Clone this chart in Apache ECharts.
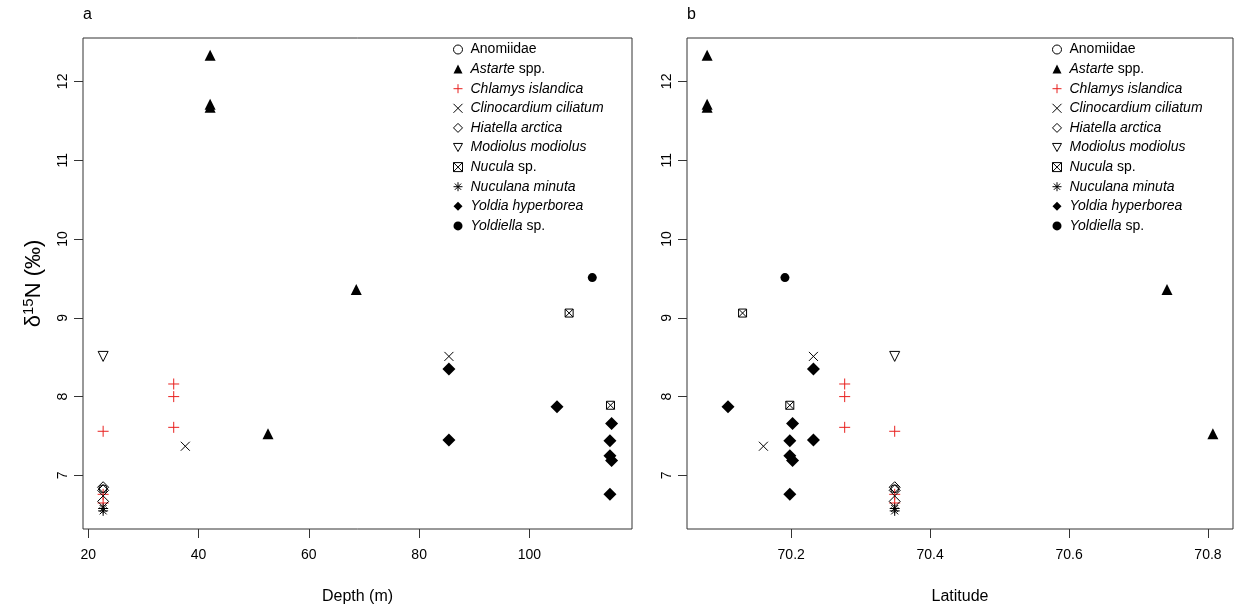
<!DOCTYPE html>
<html>
<head>
<meta charset="utf-8">
<script src="https://cdn.jsdelivr.net/npm/echarts@6/dist/echarts.min.js"></script>
<style>
html,body{margin:0;padding:0;background:#fff;}
#chart{width:1236px;height:610px;}
</style>
</head>
<body>
<div id="chart"></div>
<script>
// ---- data ----
const speciesNames = ['Anomiidae','Astarte spp.','Chlamys islandica','Clinocardium ciliatum','Hiatella arctica','Modiolus modiolus','Nucula sp.','Nuculana minuta','Yoldia hyperborea','Yoldiella sp.'];

const anomiidaeDepth = [22.7];
const anomiidaeLat   = [70.349];
const anomiidaeN     = [6.83];

const astarteDepth = [42.1, 42.1, 42.1, 68.6, 52.6];
const astarteLat   = [70.079, 70.079, 70.079, 70.741, 70.807];
const astarteN     = [12.33, 11.71, 11.67, 9.36, 7.53];

const chlamysDepth = [22.7, 35.5, 35.5, 35.5, 22.7, 22.7];
const chlamysLat   = [70.349, 70.277, 70.277, 70.277, 70.349, 70.349];
const chlamysN     = [7.56, 8.16, 8.00, 7.61, 6.76, 6.65];

const clinoDepth = [37.6, 85.4];
const clinoLat   = [70.160, 70.232];
const clinoN     = [7.37, 8.51];

const hiatellaDepth = [22.7, 22.7, 22.7];
const hiatellaLat   = [70.349, 70.349, 70.349];
const hiatellaN     = [6.85, 6.81, 6.67];

const modiolusDepth = [22.7];
const modiolusLat   = [70.349];
const modiolusN     = [8.51];

const nuculaDepth = [107.2, 114.7];
const nuculaLat   = [70.130, 70.198];
const nuculaN     = [9.06, 7.89];

const nuculanaDepth = [22.7, 22.7];
const nuculanaLat   = [70.349, 70.349];
const nuculanaN     = [6.58, 6.55];

const yoldiaDepth = [85.4, 85.4, 105.0, 114.9, 114.6, 114.6, 114.9, 114.6];
const yoldiaLat   = [70.232, 70.232, 70.109, 70.202, 70.198, 70.198, 70.202, 70.198];
const yoldiaN     = [8.35, 7.45, 7.87, 7.66, 7.44, 7.25, 7.19, 6.76];

const yoldiellaDepth = [111.4];
const yoldiellaLat   = [70.191];
const yoldiellaN     = [9.51];

const depthTicks = [20, 40, 60, 80, 100];
const latTicks   = [70.2, 70.4, 70.6, 70.8];
const nTicks     = [7, 8, 9, 10, 11, 12];

// ---- styling ----
const FONT = 'Liberation Sans, Arial, sans-serif';
const RED = '#e8211f';
const BLACK = '#000';
const CLEAR = 'rgba(0,0,0,0)';

const styles = {
  'Anomiidae':            {symbol:'circle', size:8, item:{color:CLEAR, borderColor:BLACK, borderWidth:1}},
  'Astarte spp.':         {symbol:'triangle', size:11, item:{color:BLACK}},
  'Chlamys islandica':    {symbol:'path://M5,0L5,10M0,5L10,5', size:11, item:{color:CLEAR, borderColor:RED, borderWidth:1}},
  'Clinocardium ciliatum':{symbol:'path://M0,0L10,10M10,0L0,10', size:9, item:{color:CLEAR, borderColor:BLACK, borderWidth:1}},
  'Hiatella arctica':     {symbol:'diamond', size:11, item:{color:CLEAR, borderColor:BLACK, borderWidth:1}},
  'Modiolus modiolus':    {symbol:'path://M0,0L10,0L5,9Z', size:10, item:{color:CLEAR, borderColor:BLACK, borderWidth:1}},
  'Nucula sp.':           {symbol:'path://M0,0L10,0L10,10L0,10ZM0,0L10,10M10,0L0,10', size:8, item:{color:CLEAR, borderColor:BLACK, borderWidth:1}},
  'Nuculana minuta':      {symbol:'path://M5,0L5,10M0,5L10,5M1.5,1.5L8.5,8.5M8.5,1.5L1.5,8.5', size:10, item:{color:CLEAR, borderColor:BLACK, borderWidth:1}},
  'Yoldia hyperborea':    {symbol:'diamond', size:13, item:{color:BLACK}},
  'Yoldiella sp.':        {symbol:'circle', size:9, item:{color:BLACK}}
};

const legendLabels = {
  'Anomiidae': '{n|Anomiidae}',
  'Astarte spp.': '{i|Astarte}{n| spp.}',
  'Chlamys islandica': '{i|Chlamys islandica}',
  'Clinocardium ciliatum': '{i|Clinocardium ciliatum}',
  'Hiatella arctica': '{i|Hiatella arctica}',
  'Modiolus modiolus': '{i|Modiolus modiolus}',
  'Nucula sp.': '{i|Nucula}{n| sp.}',
  'Nuculana minuta': '{i|Nuculana minuta}',
  'Yoldia hyperborea': '{i|Yoldia hyperborea}',
  'Yoldiella sp.': '{i|Yoldiella}{n| sp.}'
};

const seriesData = {
  'Anomiidae': [anomiidaeDepth, anomiidaeLat, anomiidaeN],
  'Astarte spp.': [astarteDepth, astarteLat, astarteN],
  'Chlamys islandica': [chlamysDepth, chlamysLat, chlamysN],
  'Clinocardium ciliatum': [clinoDepth, clinoLat, clinoN],
  'Hiatella arctica': [hiatellaDepth, hiatellaLat, hiatellaN],
  'Modiolus modiolus': [modiolusDepth, modiolusLat, modiolusN],
  'Nucula sp.': [nuculaDepth, nuculaLat, nuculaN],
  'Nuculana minuta': [nuculanaDepth, nuculanaLat, nuculanaN],
  'Yoldia hyperborea': [yoldiaDepth, yoldiaLat, yoldiaN],
  'Yoldiella sp.': [yoldiellaDepth, yoldiellaLat, yoldiellaN]
};

const series = [];
speciesNames.forEach(function(name){
  const d = seriesData[name], st = styles[name];
  const item = Object.assign({opacity:1}, st.item);
  [0,1].forEach(function(p){
    series.push({
      type:'scatter', name:name, xAxisIndex:p, yAxisIndex:p,
      symbol:st.symbol, symbolSize:st.size, itemStyle:item,
      emphasis:{disabled:true}, animation:false,
      data: d[2].map(function(v,i){ return [d[p][i], v]; })
    });
  });
});

function legend(left){
  return {
    orient:'vertical', left:left, top:37, itemWidth:9, itemHeight:9, itemGap:4.6,
    selectedMode:false, data:speciesNames,
    itemStyle:{borderWidth:1, opacity:1},
    formatter:function(n){ return legendLabels[n]; },
    textStyle:{color:BLACK, fontFamily:FONT, fontSize:14, lineHeight:15, padding:[0,0,0,3],
      rich:{ i:{fontStyle:'italic', fontFamily:FONT, fontSize:14, color:BLACK},
             n:{fontFamily:FONT, fontSize:14, color:BLACK} }}
  };
}

function xAxis(idx, min, max, ticks, title){
  return {
    type:'value', gridIndex:idx, min:min, max:max,
    axisLine:{show:false}, splitLine:{show:false},
    axisTick:{show:true, length:9, customValues:ticks, lineStyle:{color:'#333'}},
    axisLabel:{show:true, customValues:ticks, margin:19, color:BLACK, fontFamily:FONT, fontSize:14,
      formatter:function(v){ return String(Math.round(v*10)/10); }},
    name:title, nameLocation:'middle', nameGap:60,
    nameTextStyle:{color:BLACK, fontFamily:FONT, fontSize:16}
  };
}
function yAxis(idx, showName){
  return {
    type:'value', gridIndex:idx, min:6.32, max:12.55,
    axisLine:{show:false}, splitLine:{show:false},
    axisTick:{show:true, length:9, customValues:nTicks, lineStyle:{color:'#333'}},
    axisLabel:{show:true, customValues:nTicks, rotate:90, margin:13, color:BLACK, fontFamily:FONT, fontSize:14},
    name: showName ? '{a|δ}{s|15}{a|N (‰)}' : '', nameLocation:'middle', nameRotate:90, nameGap:38,
    nameTextStyle:{color:BLACK, fontFamily:FONT, fontSize:22,
      rich:{ a:{fontFamily:FONT, fontSize:22, color:BLACK, verticalAlign:'bottom'},
             s:{fontFamily:FONT, fontSize:15, color:BLACK, verticalAlign:'bottom', padding:[0,0,9,0]} }}
  };
}

const option = {
  backgroundColor:'#fff',
  animation:false,
  grid:[
    {left:83, right:604, top:38, bottom:81, show:true, borderColor:'#333', borderWidth:1, backgroundColor:CLEAR},
    {left:687, right:3, top:38, bottom:81, show:true, borderColor:'#333', borderWidth:1, backgroundColor:CLEAR}
  ],
  xAxis:[ xAxis(0, 19.05, 118.6, depthTicks, 'Depth (m)'), xAxis(1, 70.05, 70.836, latTicks, 'Latitude') ],
  yAxis:[ yAxis(0, true), yAxis(1, false) ],
  legend:[ legend(448), legend(1047) ],
  graphic:[
    {type:'text', left:83, top:7, style:{text:'a', fontFamily:FONT, fontSize:16, fill:BLACK}},
    {type:'text', left:687, top:7, style:{text:'b', fontFamily:FONT, fontSize:16, fill:BLACK}}
  ],
  series:series
};

const chart = echarts.init(document.getElementById('chart'), null, {renderer:'canvas'});
chart.setOption(option);
</script>
</body>
</html>
